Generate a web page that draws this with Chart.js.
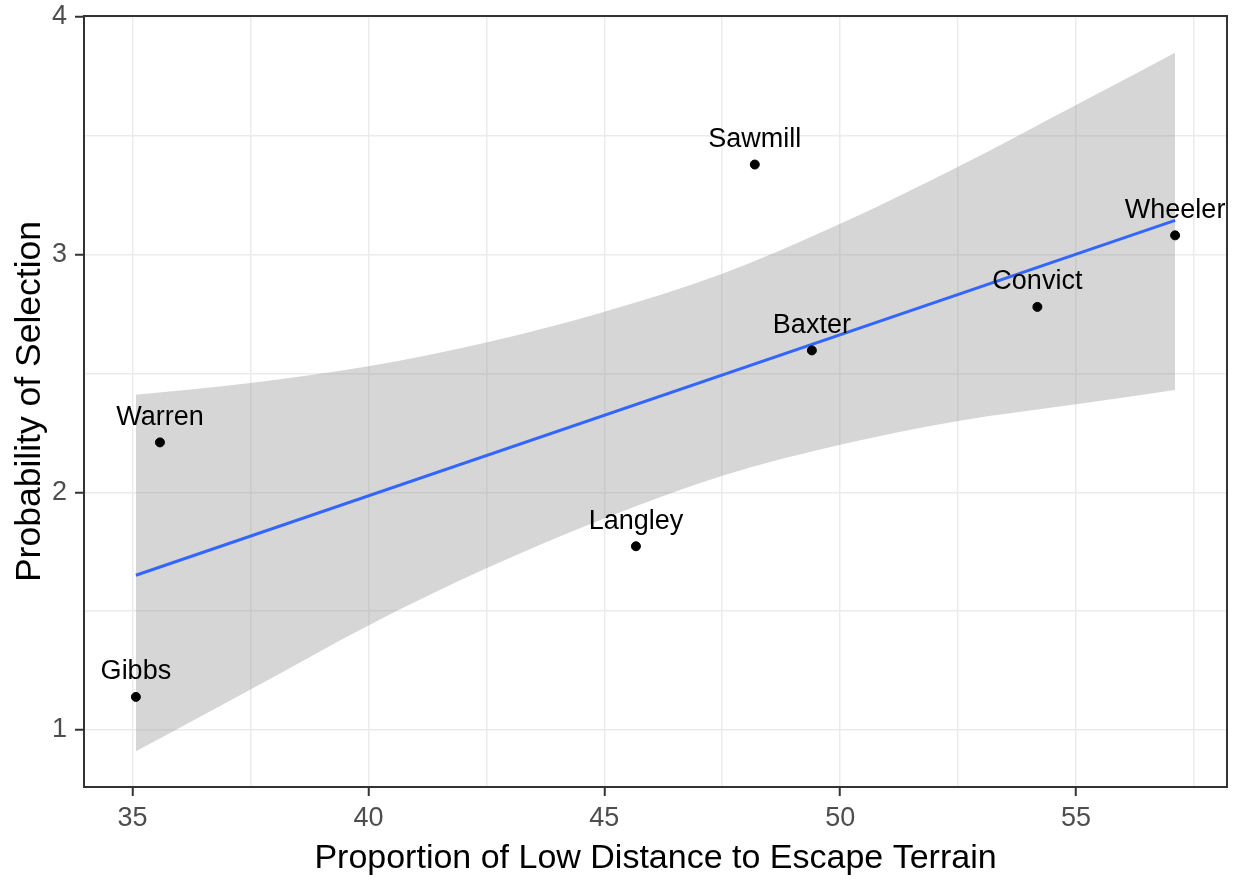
<!DOCTYPE html>
<html><head><meta charset="utf-8">
<script src="https://cdn.jsdelivr.net/npm/chart.js@4.4.1/dist/chart.umd.min.js"></script>
<style>html,body{margin:0;padding:0;background:#fff}#wrap{width:1236px;height:882px;position:relative}</style>
</head><body><div id="wrap"><canvas id="c"></canvas></div>
<script>
const siteNames = ['Gibbs','Warren','Langley','Sawmill','Baxter','Convict','Wheeler'];
const lowDistance = [35.07,35.58,45.67,48.19,49.40,54.18,57.10];
const selectionProb = [1.139,2.210,1.773,3.379,2.597,2.780,3.081];
const fitX = [35.07,57.10];
const fitY = [1.651,3.144];
const bandX = [35.07,37.5,40,42.5,45,47.5,50,52.5,55,57.10];
const bandUpper = [2.41,2.46,2.53,2.63,2.76,2.92,3.13,3.37,3.63,3.85];
const bandLower = [0.91,1.17,1.44,1.68,1.89,2.07,2.20,2.30,2.37,2.43];
const xMajorTicks = [35,40,45,50,55];
const xMinorTicks = [37.5,42.5,47.5,52.5,57.5];
const yMajorTicks = [1,2,3,4];
const yMinorTicks = [1.5,2.5,3.5];
const xTitle = 'Proportion of Low Distance to Escape Terrain';
const yTitle = 'Probability of Selection';

const FONT = "'Liberation Sans', Arial, sans-serif";
const pts = (xs, ys) => xs.map((x, i) => ({x: x, y: ys[i]}));

const panelBorder = {
  id: 'panelBorder',
  afterDatasetsDraw(chart) {
    const ctx = chart.ctx, a = chart.chartArea;
    const xs = chart.scales.x, ys = chart.scales.y;
    ctx.save();
    ctx.font = '27px ' + FONT;
    ctx.fillStyle = '#000';
    ctx.textAlign = 'center';
    ctx.textBaseline = 'alphabetic';
    siteNames.forEach((n, i) => {
      const px = xs.getPixelForValue(lowDistance[i]);
      const py = ys.getPixelForValue(selectionProb[i]);
      ctx.fillText(n, px, py - 17.5);
    });
    ctx.strokeStyle = '#333333';
    ctx.lineWidth = 2;
    ctx.strokeRect(a.left, a.top, a.right - a.left, a.bottom - a.top);
    ctx.restore();
  }
};

const isIn = (arr, v) => arr.some(t => Math.abs(t - v) < 1e-9);

new Chart(document.getElementById('c'), {
  type: 'scatter',
  data: {
    datasets: [
      {
        label: 'sites',
        data: pts(lowDistance, selectionProb),
        backgroundColor: '#000', borderColor: '#000',
        pointRadius: 4.5, pointHoverRadius: 4.5, order: 0
      },
      {
        type: 'line', label: 'fit',
        data: pts(fitX, fitY),
        borderColor: '#3366FF', borderWidth: 3,
        pointRadius: 0, fill: false, order: 1
      },
      {
        type: 'line', label: 'lower',
        data: pts(bandX, bandLower),
        borderWidth: 0, borderColor: 'rgba(0,0,0,0)',
        pointRadius: 0, fill: false, cubicInterpolationMode: 'monotone', order: 2
      },
      {
        type: 'line', label: 'upper',
        data: pts(bandX, bandUpper),
        borderWidth: 0, borderColor: 'rgba(0,0,0,0)',
        backgroundColor: 'rgba(153,153,153,0.4)',
        pointRadius: 0, fill: '-1', cubicInterpolationMode: 'monotone', order: 3
      }
    ]
  },
  options: {
    responsive: true, maintainAspectRatio: false, animation: false,
    events: [],
    layout: {padding: {top: 16, right: 9, left: 0, bottom: 0}},
    plugins: {legend: {display: false}, tooltip: {enabled: false}},
    scales: {
      x: {
        type: 'linear', min: 33.97, max: 58.2,
        afterBuildTicks(s) {
          s.ticks = xMajorTicks.concat(xMinorTicks).sort((a, b) => a - b).map(v => ({value: v}));
        },
        afterFit(s) { s.height = 95; s.paddingLeft = 0; s.paddingRight = 0; },
        border: {display: false},
        grid: {
          color: '#EBEBEB', lineWidth: 1.5,
          tickLength: 9, tickWidth: 2,
          tickColor: c => isIn(xMajorTicks, c.tick.value) ? '#333333' : 'rgba(0,0,0,0)'
        },
        ticks: {
          autoSkip: false, maxRotation: 0, padding: 6,
          color: '#4D4D4D', font: {family: FONT, size: 27},
          callback: v => isIn(xMajorTicks, v) ? String(v) : ''
        },
        title: {display: true, text: xTitle, color: '#000', font: {family: FONT, size: 34}, padding: {top: 0, bottom: 3}}
      },
      y: {
        type: 'linear', min: 0.76, max: 4.004,
        afterBuildTicks(s) {
          s.ticks = yMajorTicks.concat(yMinorTicks).sort((a, b) => a - b).map(v => ({value: v}));
        },
        afterFit(s) { s.width = 84; s.paddingTop = 0; s.paddingBottom = 0; },
        border: {display: false},
        grid: {
          color: '#EBEBEB', lineWidth: 1.5,
          tickLength: 9, tickWidth: 2,
          tickColor: c => isIn(yMajorTicks, c.tick.value) ? '#333333' : 'rgba(0,0,0,0)'
        },
        ticks: {
          autoSkip: false, padding: 8,
          color: '#4D4D4D', font: {family: FONT, size: 27},
          callback: v => isIn(yMajorTicks, v) ? String(v) : ''
        },
        title: {display: true, text: yTitle, color: '#000', font: {family: FONT, size: 35.5}, padding: {top: 9, bottom: 0}}
      }
    }
  },
  plugins: [panelBorder]
});
</script>
</body></html>
